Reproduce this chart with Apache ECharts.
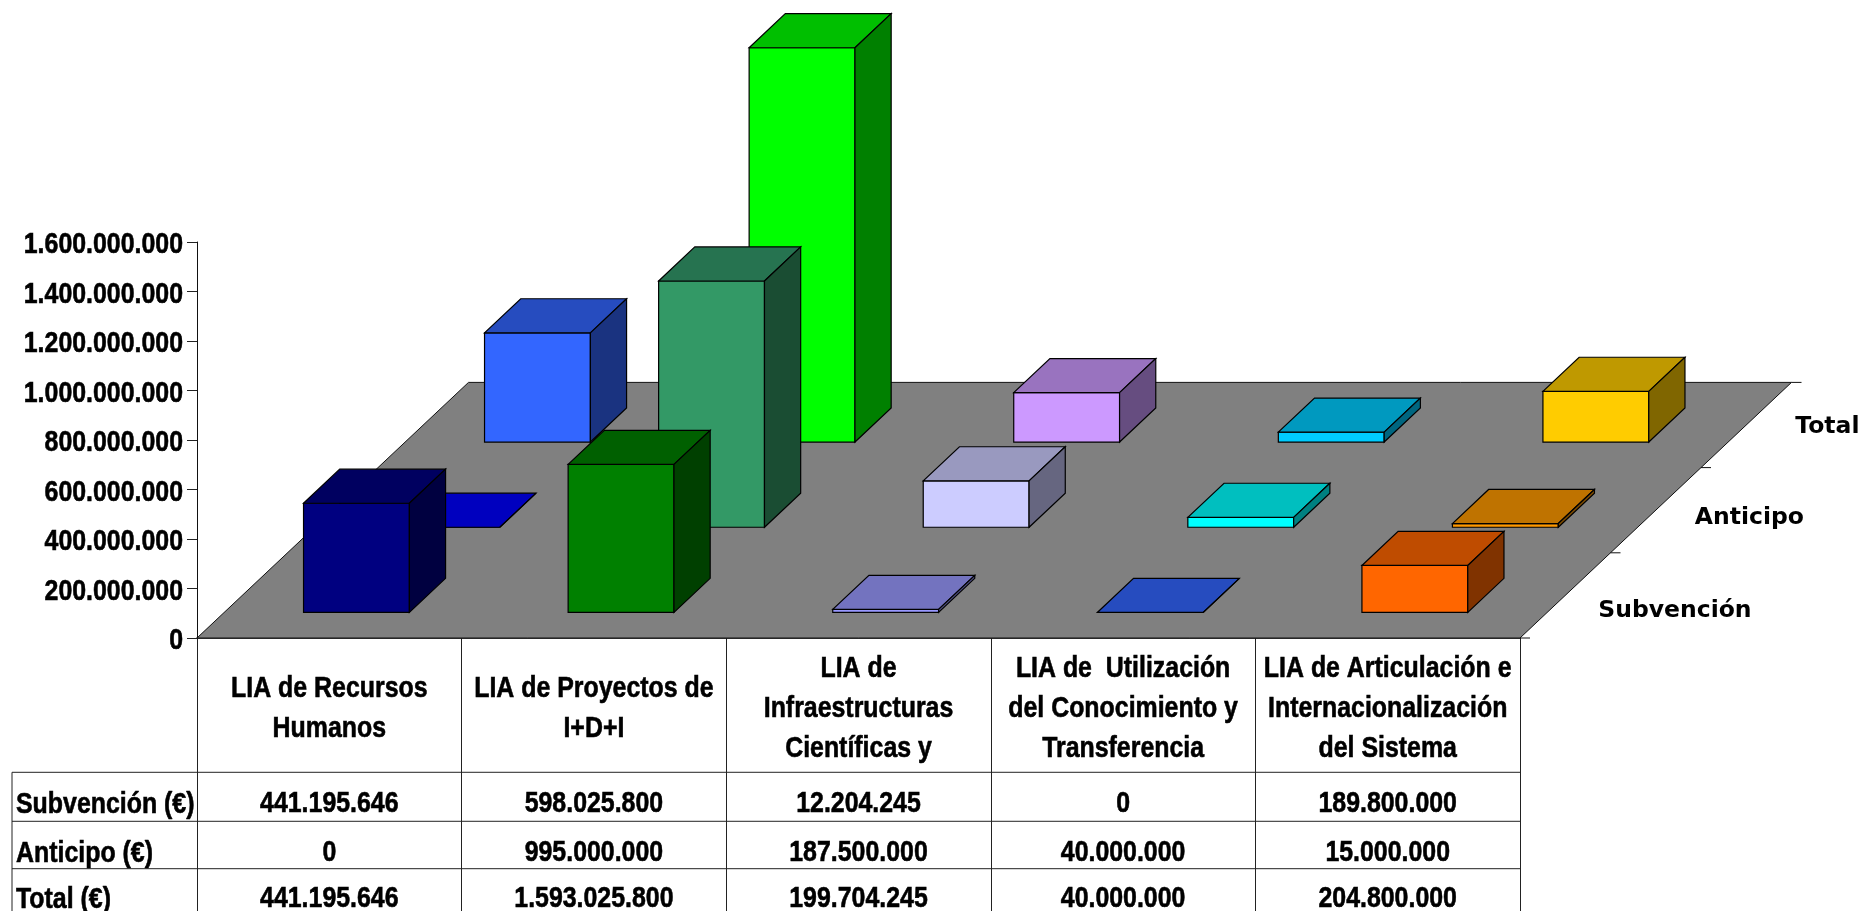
<!DOCTYPE html>
<html><head><meta charset="utf-8">
<script src="https://cdn.jsdelivr.net/npm/echarts@6/dist/echarts.min.js"></script>
<style>html,body{margin:0;padding:0;background:#fff}#c{width:1865px;height:911px}</style></head>
<body><div id="c"></div>
<script>
const categories = ['LIA de Recursos\nHumanos','LIA de Proyectos de\nI+D+I','LIA de\nInfraestructuras\nCientíficas y','LIA de  Utilización\ndel Conocimiento y\nTransferencia','LIA de Articulación e\nInternacionalización\ndel Sistema'];
const subvencion = [441195646, 598025800, 12204245, 0, 189800000];
const anticipo = [0, 995000000, 187500000, 40000000, 15000000];
const total = [441195646, 1593025800, 199704245, 40000000, 204800000];
const yTicks = [0,200000000,400000000,600000000,800000000,1000000000,1200000000,1400000000,1600000000];
const depthLabels = ['Subvención','Anticipo','Total'];
const tableLabels = ['Subvención (€)','Anticipo (€)','Total (€)'];
const subvencionColors = [['#000080','#000060','#000040'],['#008000','#006000','#004000'],['#9999FF','#7373BF','#4D4D80'],['#3366FF','#264CBF','#1A3380'],['#FF6600','#BF4C00','#803300']];
const anticipoColors = [['#0000FF','#0000BF','#000080'],['#339966','#267350','#1A4D33'],['#CCCCFF','#9999BF','#666680'],['#00FFFF','#00BFBF','#008080'],['#FF9900','#BF7300','#804D00']];
const totalColors = [['#3366FF','#264CBF','#1A3380'],['#00FF00','#00BF00','#008000'],['#CC99FF','#9973BF','#664D80'],['#00CCFF','#0099BF','#006680'],['#FFCC00','#BF9900','#806600']];

const FONT = 'bold 30px "Liberation Sans",Arial,sans-serif';
const NARROW = 0.83;
const DX = 90.5, DY = 85.2;      // screen shift of one depth row
const BAR_W = 0.4, GAP = 0.3;
const fmt = v => String(v).replace(/\B(?=(\d{3})+(?!\d))/g, '.');
const edge = {stroke:'#000', lineWidth:1.2};

function narrowText(text,x,y,align,extra){
  return {type:'text', x, y, scaleX:NARROW, silent:true,
    style:Object.assign({text, x:0, y:0, fill:'#000', stroke:'#000', lineWidth:0.6, font:FONT, align, verticalAlign:'middle'}, extra||{})};
}
function barRenderer(row, colors){
  return function(params, api){
    const i = api.value(0), v = api.value(1);
    const band = api.size([1,0])[0];
    const topPt = api.coord([i, v]), basePt = api.coord([i, 0]);
    const fx0 = topPt[0] - band*BAR_W/2 + (row+GAP)*DX;
    const fx1 = fx0 + band*BAR_W;
    const yt = topPt[1] - (row+GAP)*DY;
    const yb = basePt[1] - (row+GAP)*DY;
    const ox = DX*BAR_W, oy = DY*BAR_W;
    const c = colors[i];
    const poly = (pts, fill) => ({type:'polygon', shape:{points:pts}, style:Object.assign({fill}, edge), silent:true});
    return {type:'group', children:[
      poly([[fx0,yt],[fx1,yt],[fx1,yb],[fx0,yb]], c[0]),
      poly([[fx0,yt],[fx1,yt],[fx1+ox,yt-oy],[fx0+ox,yt-oy]], c[1]),
      poly([[fx1,yt],[fx1+ox,yt-oy],[fx1+ox,yb-oy],[fx1,yb]], c[2])
    ]};
  };
}
const depthOffX=[33,39,49], depthOffY=[15,8,2];
function floorRenderer(params, api){
  const g = params.coordSys, x0=g.x, x1=g.x+g.width, y=g.y+g.height, n=depthLabels.length;
  const children = [{type:'polygon', shape:{points:[[x0,y],[x1,y],[x1+n*DX,y-n*DY],[x0+n*DX,y-n*DY]]}, style:{fill:'#808080',stroke:'#111',lineWidth:1}}];
  for(let k=0;k<=n;k++){
    const px=x1+k*DX, py=y-k*DY;
    children.push({type:'line', shape:{x1:px,y1:py,x2:px+10,y2:py}, style:{stroke:'#111',lineWidth:1}});
  }
  depthLabels.forEach((t,k)=>{
    children.push({type:'text', style:{text:t, x:x1+(k+0.5)*DX+depthOffX[k], y:y-(k+0.5)*DY+depthOffY[k], fill:'#000', font:'bold 23.5px "DejaVu Sans"', align:'left', verticalAlign:'middle'}});
  });
  return {type:'group', children, silent:true};
}
function yLabelRenderer(params, api){
  const v=api.value(1), p=api.coord([0,v]), g=params.coordSys;
  return narrowText(fmt(v), g.x-14, p[1]+3, 'right');
}
function headerRenderer(params, api){
  const i=api.value(0), p=api.coord([i,0]);
  return narrowText(categories[i], p[0], p[1]+70.5, 'center', {lineHeight:40});
}
const rows=[subvencion,anticipo,total];
const rowColors=[subvencionColors,anticipoColors,totalColors];
const toData = arr => arr.map((v,i)=>[i,v]);
const series=[
  {type:'custom', name:'Suelo', renderItem:floorRenderer, data:[[0,0]], z:2, silent:true, clip:false},
  {type:'custom', name:'Eje', renderItem:yLabelRenderer, data:yTicks.map(v=>[0,v]), z:9, silent:true, clip:false},
  {type:'custom', name:'Líneas', renderItem:headerRenderer, data:categories.map((c,i)=>[i,0]), z:9, silent:true, clip:false}
];
for(let r=2;r>=0;r--){
  series.push({type:'custom', name:depthLabels[r], renderItem:barRenderer(r,rowColors[r]), data:toData(rows[r]), encode:{x:0,y:1}, z:5-r, clip:false, silent:true});
}
const chart=echarts.init(document.getElementById('c'),null,{renderer:'canvas'});
const gridL=197,gridR=1520,colW=(gridR-gridL)/categories.length;
const rowY=[804,852.5,899], lineY=[772.3,821.3,868.7];
const graphic=[];
lineY.forEach(y=>graphic.push({type:'line',shape:{x1:12,y1:y,x2:gridR,y2:y},style:{stroke:'#222',lineWidth:1},silent:true}));
graphic.push({type:'line',shape:{x1:12,y1:lineY[0],x2:12,y2:911},style:{stroke:'#222',lineWidth:1},silent:true});
rows.forEach((vals,r)=>{
  graphic.push(narrowText(tableLabels[r],16,rowY[r]+1,'left'));
  vals.forEach((v,i)=>graphic.push(narrowText(fmt(v),gridL+(i+.5)*colW,rowY[r],'center')));
});
chart.setOption({
  animation:false, backgroundColor:'#fff',
  grid:{left:gridL,right:1865-gridR,top:242,bottom:273,containLabel:false,outerBoundsMode:'none'},
  xAxis:{type:'category',data:categories,boundaryGap:true,
    axisLine:{show:true,lineStyle:{color:'#000',width:1.5}},
    axisTick:{show:true,length:273,lineStyle:{color:'#222',width:1}},
    axisLabel:{show:false}},
  yAxis:{type:'value',min:0,max:1600000000,interval:200000000,
    axisLine:{show:true,lineStyle:{color:'#111',width:1}},
    axisTick:{show:true,length:10,lineStyle:{color:'#222',width:1}},
    splitLine:{show:false},
    axisLabel:{show:false}},
  series, graphic
});
</script></body></html>
